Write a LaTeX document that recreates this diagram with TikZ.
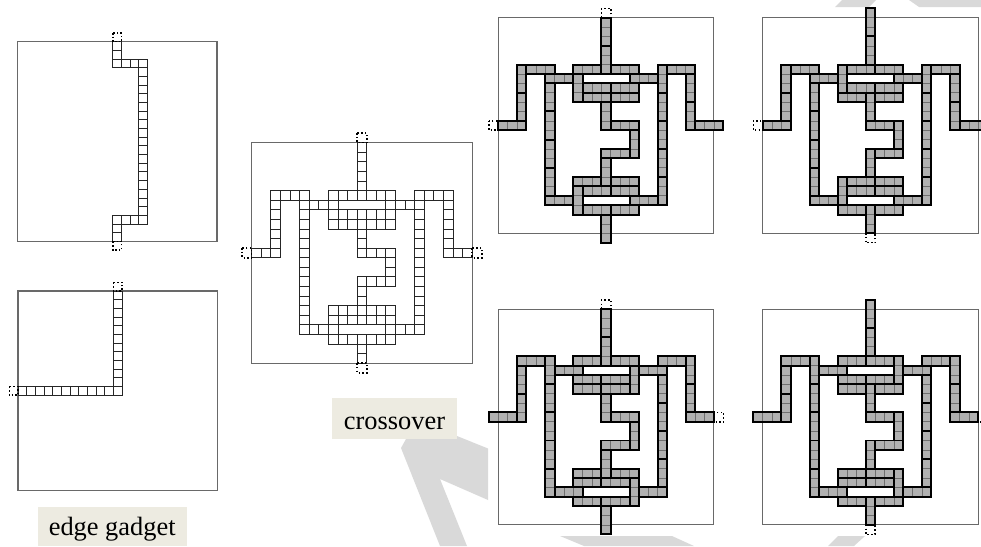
\documentclass[tikz,border=0pt]{standalone}
\usepackage{fontspec}
\setmainfont{Liberation Serif}
\definecolor{figCell}{RGB}{176,176,176}
\definecolor{figCellLine}{RGB}{110,110,110}
\definecolor{figFrame}{RGB}{105,105,105}
\definecolor{figMark}{RGB}{217,217,217}
\definecolor{figCaption}{RGB}{237,235,225}
\tikzset{
  gadgetAt/.style n args={3}{shift={(#1,#2)}, x=#3, y=-#3},
  frameBox/.style={draw=figFrame, line width=0.85pt},
  cellOpen/.style={draw=black!85, line width=0.65pt},
  cellFull/.style={fill=figCell, draw=figCellLine, line width=0.45pt},
  tileEdge/.style={draw=black, line width=1.45pt, line join=miter},
  portMark/.style={draw=black, line width=1.15pt, dash pattern=on 1.15pt off 1.6pt},
  markBand/.style={fill=figMark, draw=none},
  captionBox/.style={fill=figCaption, font=\fontsize{19.8}{22}\selectfont, inner sep=0pt}
}
% one row or column of open squares: line/first/last
\newcommand{\openH}[1]{\foreach \r/\a/\b in {#1}{\foreach \c in {\a,...,\b}{\draw[cellOpen] (\c,\r) rectangle +(1,1);}}}
\newcommand{\openV}[1]{\foreach \c/\a/\b in {#1}{\foreach \r in {\a,...,\b}{\draw[cellOpen] (\c,\r) rectangle +(1,1);}}}
% pieces of three: first column/row
\newcommand{\pieceH}[1]{\foreach \c/\r in {#1}{
  \foreach \i in {0,1,2}{\draw[cellFull] (\c+\i,\r) rectangle +(1,1);}
  \draw[tileEdge] (\c,\r) rectangle +(3,1);}}
\newcommand{\pieceV}[1]{\foreach \c/\r in {#1}{
  \foreach \i in {0,1,2}{\draw[cellFull] (\c,\r+\i) rectangle +(1,1);}
  \draw[tileEdge] (\c,\r) rectangle +(1,3);}}
\newcommand{\ports}[1]{\foreach \c/\r in {#1}{\draw[portMark] (\c,\r) rectangle +(1,1);}}
\begin{document}
\begin{tikzpicture}[x=0.75pt, y=-0.75pt]
  \useasboundingbox (0,0) rectangle (981,546);
  \clip (0,0) rectangle (981,546);

  % grey bands behind everything
  \fill[markBand] (440,546) -- (401,448) -- (406,439) -- (430,425) -- (457,436) -- (488,448.5) -- (488,500) -- (440,479) -- (467,546) -- cycle;
  \fill[markBand] (560,536) -- (672,536) -- (694,546) -- (584,546) -- cycle;
  \fill[markBand] (838,536) -- (865,536) -- (854,546) -- (828,546) -- cycle;
  \fill[markBand] (835,7) -- (842,0) -- (876,0) -- (869,7) -- cycle;
  \fill[markBand] (909,0) -- (981,0) -- (981,7) -- (919,7) -- cycle;

  % edge gadgets
  \begin{scope}[gadgetAt={17.3}{41.7}{6.51pt}]
    \draw[frameBox] (0,0) rectangle (23,23);
    \openV{11/0/2,14/2/20,11/20/22}
    \openH{2/11/14,20/11/14}
    \ports{11/-1,11/23}
  \end{scope}
  \begin{scope}[gadgetAt={18}{291}{6.51pt}]
    \draw[frameBox] (0,0) rectangle (23,23);
    \openV{11/0/11}
    \openH{11/0/11}
    \ports{11/-1,-1/11}
  \end{scope}

  % crossover
  \begin{scope}[gadgetAt={251.7}{142.7}{7.19pt}]
    \draw[frameBox] (0,0) rectangle (23,23);
    \openV{11/0/4,11/9/10,11/15/16,11/21/22,2/5/11,5/5/19,14/12/13,17/5/19,20/5/11}
    \openH{5/2/5,5/8/14,5/17/20,6/5/8,6/14/17,7/8/14,8/8/14,11/0/2,11/11/14,11/20/22,14/11/14,17/8/14,18/8/14,19/5/8,19/14/17,20/8/14}
    \ports{11/-1,-1/11,23/11,11/23}
  \end{scope}

  % the four fillings
  \begin{scope}[gadgetAt={498.3}{17.7}{7.03pt}]
    \draw[frameBox] (0,0) rectangle (23,23);
    \pieceV{11/0,11/3,11/9,11/15,11/21,2/5,2/8,5/7,5/10,5/13,5/16,8/6,8/18,14/12,17/5,17/8,17/11,17/14,17/17,20/6,20/9}
    \pieceH{3/5,8/5,12/5,18/5,5/6,14/6,9/7,12/7,9/8,12/8,0/11,12/11,21/11,11/14,8/17,12/17,9/18,12/18,5/19,14/19,9/20,12/20}
    \ports{11/-1,-1/11}
  \end{scope}
  \begin{scope}[gadgetAt={762.7}{17.7}{7.03pt}]
    \draw[frameBox] (0,0) rectangle (23,23);
    \pieceV{11/-1,11/2,11/8,11/14,11/20,2/5,2/8,5/7,5/10,5/13,5/16,8/5,8/17,14/11,17/5,17/8,17/11,17/14,17/17,20/6,20/9}
    \pieceH{3/5,9/5,12/5,18/5,5/6,14/6,9/7,12/7,8/8,12/8,0/11,11/11,21/11,12/14,9/17,12/17,9/18,12/18,5/19,14/19,8/20,12/20}
    \ports{-1/11,11/23}
  \end{scope}
  \begin{scope}[gadgetAt={498.3}{309.3}{7.03pt}]
    \draw[frameBox] (0,0) rectangle (23,23);
    \pieceV{11/0,11/3,11/9,11/15,11/21,2/6,2/9,5/5,5/8,5/11,5/14,5/17,14/6,14/12,14/18,17/7,17/10,17/13,17/16,20/5,20/8}
    \pieceH{2/5,8/5,12/5,17/5,6/6,15/6,8/7,11/7,8/8,11/8,-1/11,12/11,20/11,11/14,8/17,12/17,8/18,11/18,6/19,15/19,8/20,11/20}
    \ports{11/-1,23/11}
  \end{scope}
  \begin{scope}[gadgetAt={762.7}{309.3}{7.03pt}]
    \draw[frameBox] (0,0) rectangle (23,23);
    \pieceV{11/-1,11/2,11/8,11/14,11/20,2/6,2/9,5/5,5/8,5/11,5/14,5/17,14/5,14/11,14/17,17/7,17/10,17/13,17/16,20/5,20/8}
    \pieceH{2/5,8/5,11/5,17/5,6/6,15/6,8/7,11/7,8/8,12/8,-1/11,11/11,20/11,12/14,8/17,11/17,8/18,11/18,6/19,15/19,8/20,12/20}
    \ports{11/23,23/11}
  \end{scope}

  \node[captionBox, minimum width=111.75pt, minimum height=29.25pt, text height=17pt, text depth=4.2pt] (edgeCaption) at (112.2,526.5) {edge gadget};
  \node[captionBox, minimum width=93.75pt, minimum height=30.75pt, text height=16.3pt, text depth=0pt] (crossCaption) at (394.5,418.5) {crossover};
\end{tikzpicture}
\end{document}
